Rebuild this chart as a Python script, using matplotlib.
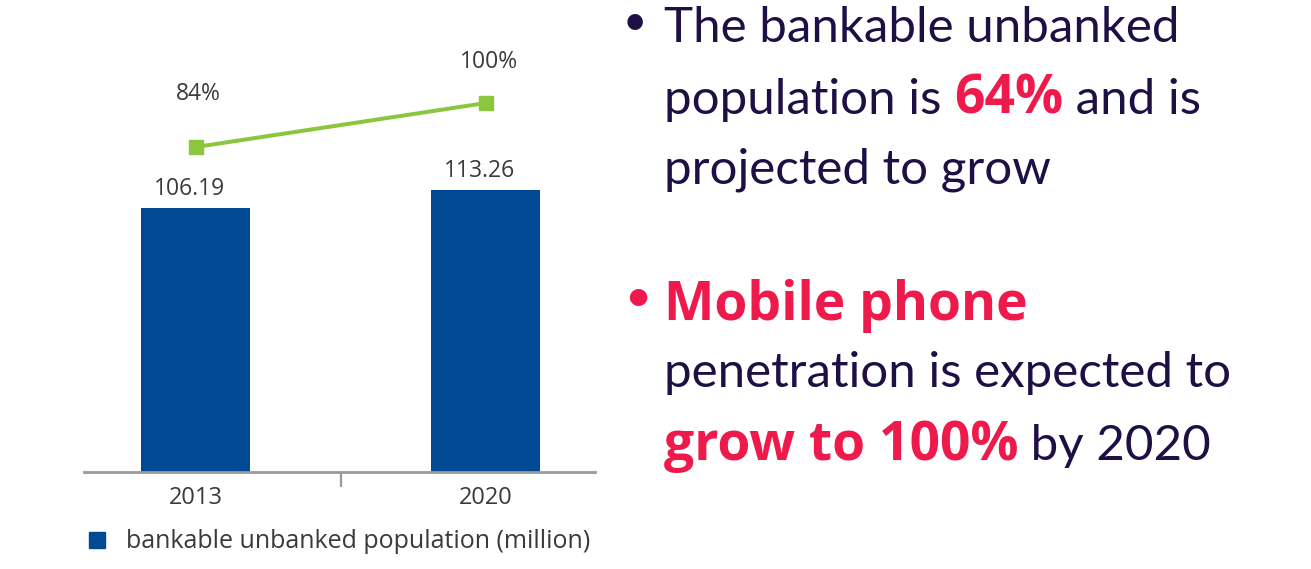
import matplotlib
matplotlib.use("Agg")
import matplotlib.pyplot as plt
from matplotlib.lines import Line2D

# ---- data ----
years = ["2013", "2020"]
population = [106.19, 113.26]          # bankable unbanked population (million)
mobile_pct = [84, 100]                 # mobile phone penetration (%)
legend_label = "bankable unbanked population (million)"

BAR = "#004a93"
GREEN = "#8cc63f"
LBL = "#3a3a3a"
NAVY = "#1e0f45"
RED = "#ef1a4c"

W, H = 1311, 569
fig = plt.figure(figsize=(W / 100, H / 100), dpi=100)
fig.patch.set_facecolor("white")

def fx(px):
    return px / W

def fy(py):
    return 1 - py / H

PT = 0.72  # points per pixel at dpi 100

ax_l, ax_r, ax_b, ax_t = 84, 595, 472, 20
ax = fig.add_axes([fx(ax_l), fy(ax_b), fx(ax_r - ax_l), (ax_b - ax_t) / H])
xs = list(range(len(years)))
bars = ax.bar(xs, population, width=0.376, color=BAR, label=legend_label, zorder=2)
ax.set_xlim(-0.386, 1.376)
ax.set_ylim(0, (ax_b - ax_t) / 2.49)
for s in ["top", "right", "left"]:
    ax.spines[s].set_visible(False)
ax.spines["bottom"].set_color("#9a9a9a")
ax.spines["bottom"].set_linewidth(2)
ax.set_yticks([])
ax.set_xticks(xs)
ax.set_xticklabels(years, fontsize=17, color=LBL, family="Open Sans")
ax.tick_params(axis="x", which="major", length=0, pad=10)
ax.set_xticks([0.5], minor=True)
ax.tick_params(axis="x", which="minor", length=11, width=1.6, color="#9a9a9a")
for x, v in zip(xs, population):
    ax.annotate(f"{v:.2f}", (x, v), xytext=(-6 * PT, 13 * PT), textcoords="offset points",
                ha="center", va="baseline", fontsize=16.5, color=LBL, family="Open Sans")

ax2 = ax.twinx()
k = 2.75
y0 = 378
ax2.set_ylim((y0 - ax_b) / k, (y0 - ax_t) / k)
ax2.plot(xs, mobile_pct, color=GREEN, lw=4 * PT, marker="s", ms=14 * PT, zorder=3)
ax2.axis("off")
line_lbl_offsets = [(2, 47), (3, 35)]
for x, v, (dx, dy) in zip(xs, mobile_pct, line_lbl_offsets):
    ax2.annotate(f"{v}%", (x, v), xytext=(dx * PT, dy * PT), textcoords="offset points",
                 ha="center", va="baseline", fontsize=16.5, color=LBL, family="Open Sans")

handle = Line2D([], [], marker="s", color=BAR, ls="none", ms=16 * PT)
fig.legend([handle], [legend_label], loc="center left",
           bbox_to_anchor=(fx(84), fy(542)), frameon=False,
           labelcolor=LBL, prop={"family": "Open Sans", "size": 18},
           handlelength=1.0, handletextpad=0.7, borderaxespad=0, borderpad=0)

# ---- right-hand text ----
renderer = fig.canvas.get_renderer()

def runs(x_px, base_px, parts):
    x = fx(x_px)
    for txt, col, bold in parts:
        if bold:
            kw = dict(fontsize=38.5, fontweight="bold", family="Open Sans")
        else:
            kw = dict(fontsize=35.5, fontweight="normal", family="Lato")
        t = fig.text(x, fy(base_px), txt, color=col, va="baseline", ha="left", **kw)
        bb = t.get_window_extent(renderer=renderer)
        x = bb.x1 / W

fig.text(fx(635), fy(34.5), "\u2022", color=NAVY, fontsize=30, family="Lato",
         ha="center", va="baseline")
runs(664, 42, [("The bankable unbanked", NAVY, False)])
runs(664, 114, [("population is ", NAVY, False), ("64%", RED, True),
                (" and is", NAVY, False)])
runs(664, 183, [("projected to grow", NAVY, False)])

fig.text(fx(638), fy(311), "\u2022", color=RED, fontsize=34, family="Lato",
         ha="center", va="baseline")
runs(664, 320, [("Mobile phone", RED, True)])
runs(664, 387, [("penetration is expected to", NAVY, False)])
runs(664, 460, [("grow to 100%", RED, True), (" by 2020", NAVY, False)])

fig.savefig("out.png", dpi=100, facecolor="white")
